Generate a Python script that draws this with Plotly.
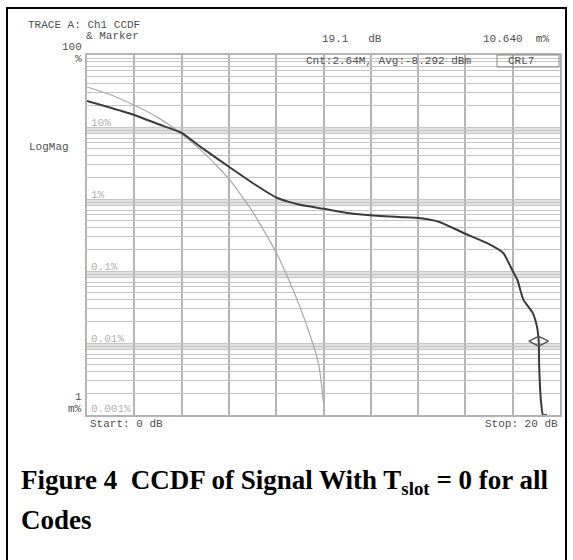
import plotly.graph_objects as go

# ---------------- data ----------------
# Gaussian (AWGN) reference CCDF curve, thin gray: dB above average, probability in %
ref_db = [0.0, 1.0, 2.0, 3.0, 4.0, 5.0, 6.0, 7.0, 8.0, 8.5, 9.0, 9.5, 9.8, 10.0]
ref_pct = [36, 28, 20, 13.5, 8.0, 4.2, 1.9, 0.67, 0.18, 0.08, 0.032, 0.011, 0.005, 0.0015]

# Measured CCDF curve, dark
meas_db = [0.0, 1.0, 2.0, 3.0, 4.0, 4.8, 6.0, 7.0, 7.6, 8.0, 8.5, 9.0, 10.0, 11.0, 12.4, 13.3,
           14.1, 14.9, 15.9, 16.9, 17.6, 18.0, 18.2, 18.45, 18.85, 19.03, 19.1, 19.12,
           19.2, 19.28, 19.45]
meas_pct = [23, 18.5, 14.7, 11.0, 8.3, 5.3, 2.8, 1.67, 1.25, 1.05, 0.92, 0.83, 0.73, 0.64,
            0.58, 0.56, 0.54, 0.48, 0.34, 0.245, 0.178, 0.10, 0.075, 0.040, 0.026, 0.0166,
            0.0106, 0.0047, 0.0015, 0.001, 0.001]

marker_db = [19.1]
marker_pct = [0.0106]

decade_labels = ["10%", "1%", "0.1%", "0.01%", "0.001%"]

# ---------------- geometry ----------------
W, H = 573, 560
L, R, T, B = 87, 560, 55, 415
pw, ph = R - L, B - T

def px(x):
    return (x - L) / pw

def py(y):
    return (B - y) / ph

fig = go.Figure()

fig.add_trace(go.Scatter(x=ref_db, y=ref_pct, mode="lines",
                         line=dict(color="#a8a8a8", width=1.2, shape="spline", smoothing=0.5),
                         hoverinfo="skip"))
fig.add_trace(go.Scatter(x=meas_db, y=meas_pct, mode="lines",
                         line=dict(color="#3a3a3a", width=2.0, shape="spline", smoothing=0.5),
                         hoverinfo="skip"))
fig.add_trace(go.Scatter(x=marker_db, y=marker_pct, mode="markers",
                         marker=dict(symbol="diamond-wide-open", size=14, color="#555",
                                     line=dict(color="#555", width=1.5)),
                         hoverinfo="skip"))

# log gridlines 1..9 x 10^k
minor = []
for k in range(-3, 2):
    for m in range(1, 10):
        minor.append(m * 10 ** k)
minor.append(100)

shapes = []
for k in range(-2, 2):
    top = 10 ** k
    shapes.append(dict(type="rect", xref="x", yref="y", x0=0, x1=20,
                       y0=0.8 * top, y1=top, fillcolor="#e2e2e2",
                       line=dict(width=0), layer="below"))

# outer frame
shapes.append(dict(type="rect", xref="paper", yref="paper",
                   x0=px(7), x1=px(566), y0=py(620), y1=py(8),
                   line=dict(color="black", width=2)))
# CRL7 box
shapes.append(dict(type="rect", xref="paper", yref="paper",
                   x0=px(497), x1=px(559), y0=py(67), y1=py(55),
                   line=dict(color="#888", width=1)))

fig.update_layout(shapes=shapes)

mono = dict(family="Liberation Mono", size=11, color="#505050")
anns = []

def ann(text, x, y, xanchor="left", font=None, yanchor="middle"):
    anns.append(dict(text=text, x=px(x), y=py(y), xref="paper", yref="paper",
                     showarrow=False, xanchor=xanchor, yanchor=yanchor,
                     font=font or mono))

ann("TRACE A: Ch1 CCDF", 26, 25)
ann("& Marker", 84, 36)
ann("19.1   dB", 320, 39)
ann("10.640  m%", 481, 39)
ann("100", 84, 47, xanchor="right")
ann("%", 84, 59, xanchor="right")
ann("Cnt:2.64M, Avg:-8.292 dBm", 304, 61)
ann("CRL7", 506, 61)
ann("LogMag", 27, 147)
ann("1", 84, 397, xanchor="right")
ann("m%", 84, 409, xanchor="right")
ann("Start: 0 dB", 88, 424)
ann("Stop: 20 dB", 560, 424, xanchor="right")

gray = dict(family="Liberation Mono", size=11, color="#b0b0b0")
lab_y = [123, 195, 267, 339, 409]
for t, yy in zip(decade_labels, lab_y):
    ann(t, 89, yy, font=gray)

serif = dict(family="Liberation Serif", size=27, color="black")
ann("<b>Figure 4  CCDF of Signal With T<sub>slot</sub> = 0 for all</b>", 19, 482, font=serif)
ann("<b>Codes</b>", 19, 520, font=serif)

fig.update_layout(annotations=anns)

fig.update_xaxes(range=[0, 20], dtick=2, showticklabels=False, ticks="",
                 showgrid=True, gridcolor="#b4b4b4", gridwidth=2,
                 zeroline=False, showline=True, linecolor="#b4b4b4", linewidth=2,
                 mirror=True)
fig.update_yaxes(type="log", range=[-3, 2], tickvals=minor, showticklabels=False,
                 ticks="", showgrid=True, gridcolor="#c4c4c4", gridwidth=1.3,
                 zeroline=False, showline=True, linecolor="#b4b4b4", linewidth=2,
                 mirror=True)

fig.update_layout(width=W, height=H, showlegend=False,
                  margin=dict(l=L, r=W - R, t=T, b=H - B),
                  plot_bgcolor="white", paper_bgcolor="white")

fig.write_html("out.html")
